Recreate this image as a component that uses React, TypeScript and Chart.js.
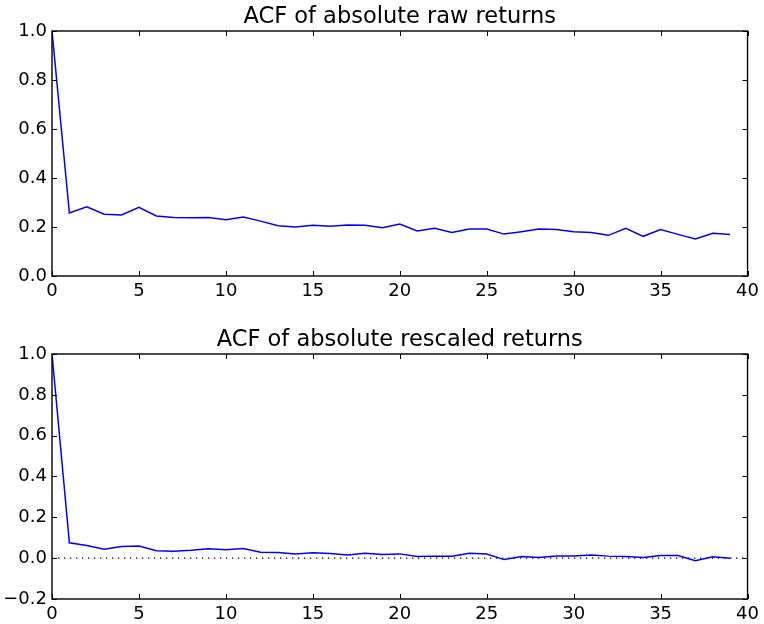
import React, { useEffect, useRef } from "react";
import { Chart, registerables } from "chart.js";

Chart.register(...registerables);

const lags = [0, 1, 2, 3, 4, 5, 6, 7, 8, 9, 10, 11, 12, 13, 14, 15, 16, 17, 18, 19, 20, 21, 22, 23, 24, 25, 26, 27, 28, 29, 30, 31, 32, 33, 34, 35, 36, 37, 38, 39];

const rawAcf = [1.0, 0.257, 0.282, 0.252, 0.249, 0.28, 0.245, 0.239, 0.238, 0.239, 0.23, 0.241, 0.224, 0.205, 0.2, 0.207, 0.203, 0.208, 0.207, 0.197, 0.212, 0.184, 0.195, 0.178, 0.192, 0.192, 0.171, 0.181, 0.192, 0.19, 0.181, 0.178, 0.166, 0.195, 0.162, 0.19, 0.17, 0.151, 0.174, 0.169];

const rescaledAcf = [1.0, 0.075, 0.062, 0.044, 0.057, 0.059, 0.036, 0.034, 0.039, 0.046, 0.041, 0.047, 0.029, 0.028, 0.021, 0.026, 0.023, 0.016, 0.024, 0.018, 0.021, 0.008, 0.01, 0.01, 0.024, 0.02, -0.007, 0.008, 0.003, 0.011, 0.011, 0.016, 0.01, 0.008, 0.003, 0.013, 0.013, -0.013, 0.007, 0.0];

const xTicks = [0, 5, 10, 15, 20, 25, 30, 35, 40];
const rawYTicks = [0.0, 0.2, 0.4, 0.6, 0.8, 1.0];
const rescaledYTicks = [-0.2, 0.0, 0.2, 0.4, 0.6, 0.8, 1.0];

const titleRaw = "ACF of absolute raw returns";
const titleRescaled = "ACF of absolute rescaled returns";

const FONT = '"DejaVu Sans", sans-serif';
const TICK_FONT_SIZE = 18;
const TITLE_FONT_SIZE = 22.5;

const framePlugin = {
  id: "mplFrame",
  afterDraw(chart: any) {
    const ctx = chart.ctx;
    const { left, right, top, bottom } = chart.chartArea;
    const xs = chart.scales.x;
    const ys = chart.scales.y;
    const tl = 5;
    ctx.save();
    ctx.strokeStyle = "#000";
    ctx.lineWidth = 1;
    ctx.beginPath();
    xs.ticks.forEach((t: any) => {
      const px = Math.round(xs.getPixelForValue(t.value)) + 0.5;
      ctx.moveTo(px, bottom);
      ctx.lineTo(px, bottom - tl);
      ctx.moveTo(px, top);
      ctx.lineTo(px, top + tl);
    });
    ys.ticks.forEach((t: any) => {
      const py = Math.round(ys.getPixelForValue(t.value)) + 0.5;
      ctx.moveTo(left, py);
      ctx.lineTo(left + tl, py);
      ctx.moveTo(right, py);
      ctx.lineTo(right - tl, py);
    });
    ctx.stroke();
    ctx.lineWidth = 1.4;
    ctx.strokeRect(left, top, right - left, bottom - top);
    const title = chart.options.plugins.mplTitle?.text;
    if (title) {
      ctx.fillStyle = "#000";
      ctx.font = `${TITLE_FONT_SIZE}px ${FONT}`;
      ctx.textAlign = "center";
      ctx.textBaseline = "alphabetic";
      ctx.fillText(title, (left + right) / 2, top - 8);
    }
    ctx.restore();
  },
};

function makeConfig(
  values: number[],
  yTicks: number[],
  title: string,
  padTop: number,
  xAxisHeight: number,
  zeroLine: boolean
): any {
  const datasets: any[] = [
    {
      data: lags.map((l, i) => ({ x: l, y: values[i] })),
      borderColor: "#0000ff",
      borderWidth: 1.5,
      pointRadius: 0,
      tension: 0,
      fill: false,
      order: 0,
    },
  ];
  if (zeroLine) {
    datasets.push({
      data: [
        { x: xTicks[0], y: 0 },
        { x: xTicks[xTicks.length - 1], y: 0 },
      ],
      borderColor: "#000",
      borderWidth: 1.3,
      borderDash: [1.3, 4.7],
      pointRadius: 0,
      fill: false,
      order: 1,
    });
  }
  return {
    type: "line",
    data: { datasets },
    options: {
      animation: false,
      responsive: false,
      devicePixelRatio: 1,
      layout: { padding: { top: padTop, right: 13, left: 0, bottom: 0 } },
      plugins: {
        legend: { display: false },
        tooltip: { enabled: false },
        title: { display: false },
        mplTitle: { text: title },
      },
      scales: {
        x: {
          type: "linear",
          min: xTicks[0],
          max: xTicks[xTicks.length - 1],
          afterBuildTicks: (s: any) => {
            s.ticks = xTicks.map((v) => ({ value: v }));
          },
          afterFit: (s: any) => {
            s.height = xAxisHeight;
          },
          grid: { display: false, drawTicks: false },
          border: { display: false },
          ticks: {
            color: "#000",
            padding: 5,
            maxRotation: 0,
            autoSkip: false,
            font: { family: FONT, size: TICK_FONT_SIZE },
            callback: (v: any) => String(v),
          },
        },
        y: {
          type: "linear",
          min: yTicks[0],
          max: yTicks[yTicks.length - 1],
          afterBuildTicks: (s: any) => {
            s.ticks = yTicks.map((v) => ({ value: v }));
          },
          afterFit: (s: any) => {
            s.width = 52;
          },
          grid: { display: false, drawTicks: false },
          border: { display: false },
          ticks: {
            color: "#000",
            padding: 5,
            autoSkip: false,
            font: { family: FONT, size: TICK_FONT_SIZE },
            callback: (v: any) => {
              const n = Number(v);
              const s = Math.abs(n).toFixed(1);
              return n < -1e-9 ? "\u2212" + s : s;
            },
          },
        },
      },
    },
    plugins: [framePlugin],
  };
}

function AcfChart(props: {
  values: number[];
  yTicks: number[];
  title: string;
  top: number;
  height: number;
  padTop: number;
  xAxisHeight: number;
  zeroLine: boolean;
}) {
  const ref = useRef<HTMLCanvasElement | null>(null);
  useEffect(() => {
    if (!ref.current) return;
    const chart = new Chart(
      ref.current,
      makeConfig(props.values, props.yTicks, props.title, props.padTop, props.xAxisHeight, props.zeroLine)
    );
    return () => chart.destroy();
  }, []);
  return (
    <canvas
      ref={ref}
      width={764}
      height={props.height}
      style={{ position: "absolute", left: 0, top: props.top, width: 764, height: props.height }}
    />
  );
}

export default function App() {
  return (
    <div style={{ position: "absolute", left: 0, top: 0, width: 764, height: 624, background: "#fff" }}>
      <AcfChart values={rawAcf} yTicks={rawYTicks} title={titleRaw} top={0} height={312} padTop={31} xAxisHeight={36} zeroLine={false} />
      <AcfChart values={rescaledAcf} yTicks={rescaledYTicks} title={titleRescaled} top={312} height={312} padTop={42} xAxisHeight={25} zeroLine={true} />
    </div>
  );
}
